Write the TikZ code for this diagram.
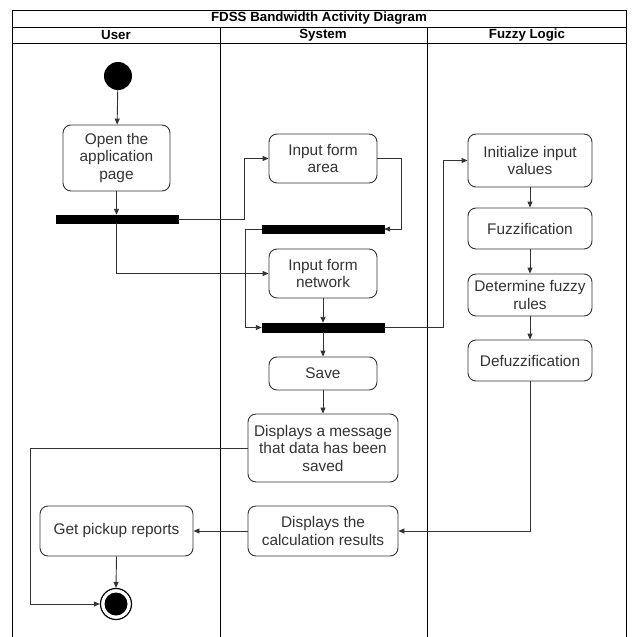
\documentclass[tikz,border=0pt]{standalone}
\usepackage{fontspec}
\setmainfont{Liberation Sans}
\usetikzlibrary{arrows.meta}
\definecolor{ink}{HTML}{333333}
\tikzset{
  act/.style={draw=ink, line width=0.9pt, rounded corners=8pt, fill=white, align=center,
    text=ink, inner sep=1pt, font=\fontsize{15.4}{17.5}\selectfont},
  forkbar/.style={draw=black, fill=black, inner sep=0pt},
  flow/.style={draw=ink, line width=0.9pt, -{Triangle[length=6pt,width=5pt]}},
  lane/.style={draw=black, line width=0.9pt},
  head/.style={font=\fontsize{13.3}{14}\selectfont\bfseries, text=black}
}
\begin{document}
\begin{tikzpicture}[x=1pt, y=-1pt]
\useasboundingbox (0,0) rectangle (635,637);
\fill[white] (0,0) rectangle (635,637);

% swimlane frame
\draw[lane] (12,637) -- (12,10) -- (626,10) -- (626,637);
\draw[lane] (12,27) -- (626,27);
\draw[lane] (12,43) -- (626,43);
\draw[lane] (220,27) -- (220,637);
\draw[lane] (427,27) -- (427,637);
\node[head] (title) at (319,18.5) {FDSS Bandwidth Activity Diagram};
\node[head] (huser) at (116,35) {User};
\node[head] (hsys) at (323,35) {System};
\node[head] (hfuzzy) at (527,35) {Fuzzy Logic};

% initial and final states
\node[circle, fill=black, minimum size=28pt, inner sep=0pt] (start) at (118,76) {};
\node[circle, draw=black, line width=1.2pt, fill=white, minimum size=31pt, inner sep=0pt] (stop) at (116,604) {};
\node[circle, fill=black, minimum size=23pt, inner sep=0pt] (stopdot) at (116,604) {};

% actions
\node[act, minimum width=107pt, minimum height=66pt] (open) at (116.5,158) {Open the\\application\\page};
\node[act, minimum width=108pt, minimum height=49pt] (area) at (323,158.5) {Input form\\area};
\node[act, minimum width=108pt, minimum height=49pt] (network) at (323,273.5) {Input form\\network};
\node[act, minimum width=124pt, minimum height=53pt] (init) at (530,160.5) {Initialize input\\values};
\node[act, minimum width=124pt, minimum height=41pt] (fuzz) at (530,228.5) {Fuzzification};
\node[act, minimum width=124pt, minimum height=42pt] (rules) at (530,295) {Determine fuzzy\\rules};
\node[act, minimum width=124pt, minimum height=41pt] (defuzz) at (530,360.5) {Defuzzification};
\node[act, minimum width=108pt, minimum height=33pt] (save) at (323,373.5) {Save};
\node[act, minimum width=150pt, minimum height=68pt] (msg) at (323,448) {Displays a message\\that data has been\\saved};
\node[act, minimum width=150pt, minimum height=50pt] (calc) at (323,531) {Displays the\\calculation results};
\node[act, minimum width=153pt, minimum height=50pt] (pickup) at (116.5,531) {Get pickup reports};

% fork / join bars
\node[forkbar, minimum width=122pt, minimum height=8pt] (bar1) at (117,219) {};
\node[forkbar, minimum width=122pt, minimum height=8pt] (bar2) at (323,229) {};
\node[forkbar, minimum width=122pt, minimum height=9pt] (bar3) at (323,327.5) {};

% control flow
\draw[flow] (start) -- (open);
\draw[flow] (open.south) -- (open.south |- bar1.north);
\draw[flow] (bar1.east) -- ++(66,0) |- (area.west);
\draw[flow] (open.south |- bar1.south) |- (network.west);
\draw[flow] (area.east) -- ++(24,0) |- (bar2.east);
\draw[flow] (bar2.west) -- ++(-16,0) |- (bar3.west);
\draw[flow] (network.south) -- (network.south |- bar3.north);
\draw[flow] (bar3.east) -- ++(59,0) |- (init.west);
\draw[flow] (init) -- (fuzz);
\draw[flow] (fuzz) -- (rules);
\draw[flow] (rules) -- (defuzz);
\draw[flow] (bar3.south) -- (save.north);
\draw[flow] (save) -- (msg);
\draw[flow] (msg.west) -- (30,448) |- (stop.west);
\draw[flow] (defuzz.south) |- (calc.east);
\draw[flow] (calc.west) -- (pickup.east);
\draw[flow] (pickup.south) -- (stop.north);
\end{tikzpicture}
\end{document}
